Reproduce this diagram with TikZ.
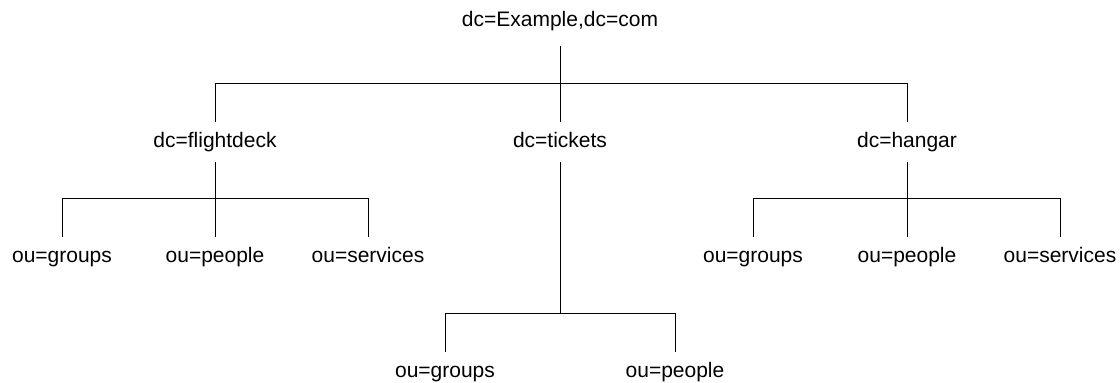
\documentclass[tikz,border=0pt]{standalone}
\usepackage{fontspec}
\setmainfont{Liberation Sans}
\usetikzlibrary{positioning}

\begin{document}
\begin{tikzpicture}[x=0.5pt,y=-0.5pt,line width=0.5pt,
                    font=\fontsize{10.5}{12}\selectfont]
      \tikzstyle{every node}=[anchor=base,inner sep=0pt,text height=12.5pt,text depth=7pt]
      \tikzstyle{branch}=[to path={-| (\tikztotarget)}]
      \useasboundingbox (0,0) rectangle (1120,382);

      \node     (root)    [text depth=9.5pt] at (560,26)  {dc=Example,dc=com};
      \node     (flight)  []                 at (215,147) {dc=flightdeck};
      \node     (tickets) []                 at (560,147) {dc=tickets};
      \node     (hangar)  []                 at (907,147) {dc=hangar};

      \node     (fgroups)   [] at (62,262)   {ou=groups};
      \node     (fpeople)   [] at (215,262)  {ou=people};
      \node     (fservices) [] at (368,262)  {ou=services};
      \node     (tgroups)   [] at (445,377)  {ou=groups};
      \node     (tpeople)   [] at (675,377)  {ou=people};
      \node     (hgroups)   [] at (753,262)  {ou=groups};
      \node     (hpeople)   [] at (907,262)  {ou=people};
      \node     (hservices) [] at (1060,262) {ou=services};

      \coordinate (rootbar)   at (560,83);
      \coordinate (flightbar) at (215,198);
      \coordinate (ticketbar) at (560,313);
      \coordinate (hangarbar) at (907,198);

      \path (root.south)    edge              (rootbar)
        (rootbar)          edge [branch]     (flight.north)
                           edge              (tickets.north)
                           edge [branch]     (hangar.north)
        (flight.south)     edge              (flightbar)
        (flightbar)        edge [branch]     (fgroups.north)
                           edge              (fpeople.north)
                           edge [branch]     (fservices.north)
        (tickets.south)    edge              (ticketbar)
        (ticketbar)        edge [branch]     (tgroups.north)
                           edge [branch]     (tpeople.north)
        (hangar.south)     edge              (hangarbar)
        (hangarbar)        edge [branch]     (hgroups.north)
                           edge              (hpeople.north)
                           edge [branch]     (hservices.north)
        ;
    \end{tikzpicture}
\end{document}
